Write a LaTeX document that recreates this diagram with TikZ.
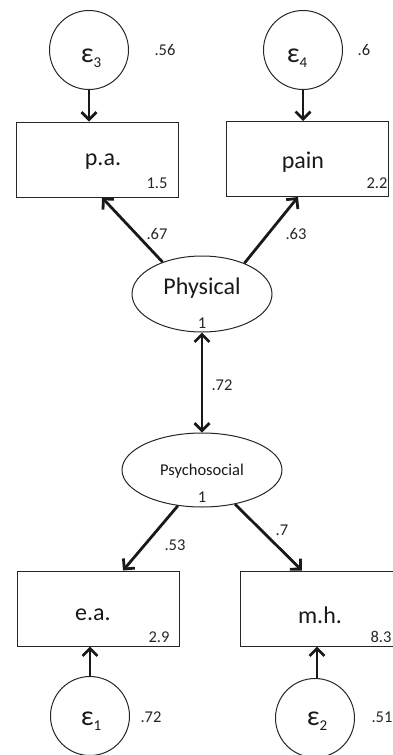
\documentclass[tikz,border=0pt]{standalone}
\usepackage{fontspec}
\setmainfont{Carlito}
\usetikzlibrary{arrows.meta,shapes.geometric}
\begin{document}
\begin{tikzpicture}[x=1pt,y=-1pt,
  box/.style={draw=black!85,line width=1pt,minimum width=162pt,minimum height=75pt,inner sep=0pt},
  errc/.style={draw=black!85,line width=1pt,circle,minimum size=79pt,inner sep=0pt},
  lat/.style={draw=black!85,line width=1pt,ellipse,inner sep=0pt},
  pth/.style={line width=2.8pt,black!90,-{Straight Barb[length=7.5pt,width=15pt,line width=2.8pt]}},
  dpth/.style={line width=2.8pt,black!90,{Straight Barb[length=7.5pt,width=15pt,line width=2.8pt]}-{Straight Barb[length=7.5pt,width=15pt,line width=2.8pt]}},
  lab/.style={inner sep=0pt,text=black!90,font=\fontsize{24}{28}\selectfont},
  num/.style={inner sep=0pt,text=black!85,font=\fontsize{16.5}{18}\selectfont},
  eps/.style={inner sep=0pt,text=black!90,font=\fontsize{28}{30}\selectfont}
]
\useasboundingbox (0,0) rectangle (392,755);
% error circles
\node[errc] (e3) at (89,50) {};
\node[errc] (e4) at (303,50) {};
\node[errc] (e1) at (90,716) {};
\node[errc] (e2) at (315,718) {};
\node[eps] (e3t) at (91,58) {ε\raisebox{-5pt}{\fontsize{15}{16}\selectfont 3}};
\node[eps] (e4t) at (297,58) {ε\raisebox{-5pt}{\fontsize{15}{16}\selectfont 4}};
\node[eps] (e1t) at (91,721) {ε\raisebox{-5pt}{\fontsize{15}{16}\selectfont 1}};
\node[eps] (e2t) at (317,721) {ε\raisebox{-5pt}{\fontsize{15}{16}\selectfont 2}};
% boxes
\node[box] (pa) at (97.5,159.5) {};
\node[box] (pain) at (307,159) {};
\node[box] (ea) at (98.5,608.5) {};
\node[box] (mh) at (321.5,608.5) {};
\node[lab] (pat) at (103,162) {p.a.};
\node[lab] (paint) at (303,162) {pain};
\node[lab] (eat) at (93,615) {e.a.};
\node[lab] (mht) at (320,615) {m.h.};
% latents
\node[lat,minimum width=140pt,minimum height=76pt] (phys) at (202,294) {};
\node[lat,minimum width=160pt,minimum height=74pt] (psy) at (202,470) {};
\node[lab] (physt) at (202,288) {Physical};
\node[inner sep=0pt,text=black!90,font=\fontsize{16.5}{18}\selectfont] (psyt) at (202,471) {Psychosocial};
\node[num] (phys1) at (202,323) {1};
\node[num] (psy1) at (202,497) {1};
% numbers
\node[num] (n56) at (165,50) {.56};
\node[num] (n6) at (364,50) {.6};
\node[num] (n15) at (157,183) {1.5};
\node[num] (n22) at (377,183) {2.2};
\node[num] (n67) at (157,234) {.67};
\node[num] (n63) at (296,234) {.63};
\node[num] (n72a) at (222,385) {.72};
\node[num] (n53) at (175,545) {.53};
\node[num] (n7) at (282,530) {.7};
\node[num] (n29) at (159,637) {2.9};
\node[num] (n83) at (381,637) {8.3};
\node[num] (n72b) at (151,717) {.72};
\node[num] (n51) at (382,717) {.51};
% connectors
\draw[pth] (e3.south) -- (e3.south |- pa.north);
\draw[pth] (e4.south) -- (e4.south |- pain.north);
\draw[pth] (e1.north) -- (e1.north |- ea.south);
\draw[pth] ([xshift=2pt]e2.north) -- ([xshift=2pt]e2.north |- mh.south);
\draw[pth] (phys.141) -- ([xshift=4.5pt]pa.south);
\draw[pth] (phys.36) -- ([xshift=-9pt]pain.south);
\draw[dpth] (phys.south) -- (psy.north);
\draw[pth] (psy.236) -- ([xshift=24.5pt]ea.north);
\draw[pth] (psy.314) -- ([xshift=-19.5pt]mh.north);
\end{tikzpicture}
\end{document}
